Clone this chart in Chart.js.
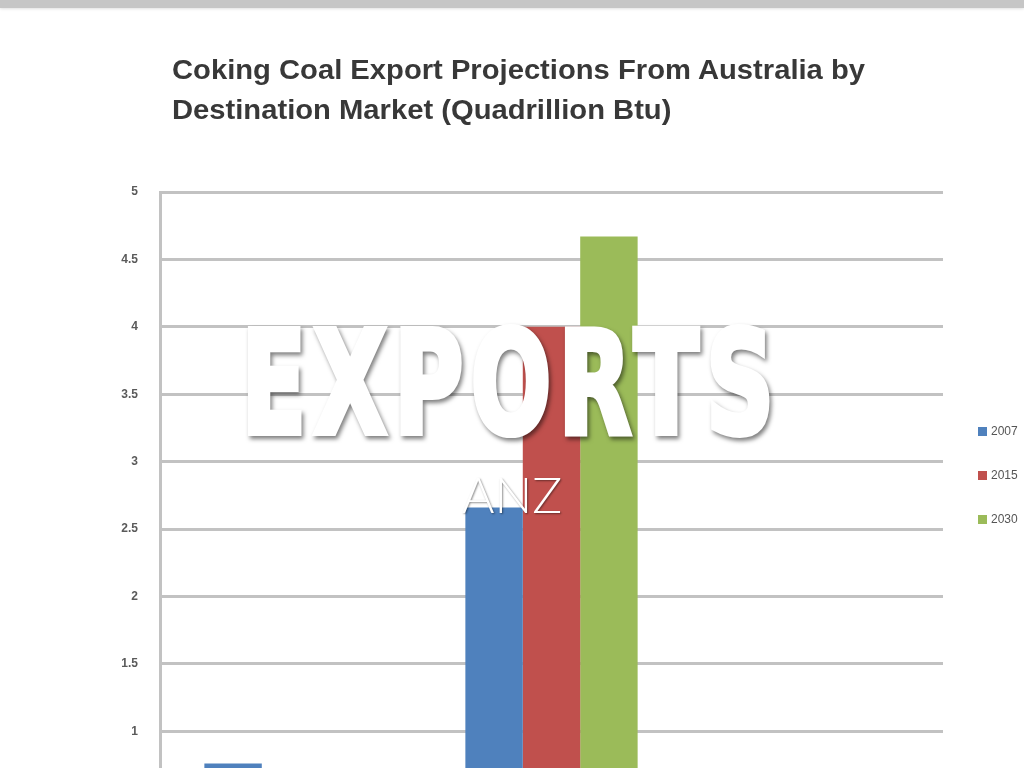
<!DOCTYPE html>
<html>
<head>
<meta charset="utf-8">
<title>Exports</title>
<script src="https://cdn.jsdelivr.net/npm/chart.js@4.4.0/dist/chart.umd.min.js"></script>
<style>
  html, body { margin: 0; padding: 0; width: 1024px; height: 768px; overflow: hidden; background: #fff; }
  #picture { position: absolute; left: 0; top: 0; width: 1024px; height: 768px; overflow: hidden; filter: blur(0.7px); }
  #chartBox { position: absolute; left: 0; top: 0; width: 1024px; height: 920px; }
  #chartTitle { position: absolute; left: 172px; top: 50px; display: inline-block; white-space: nowrap;
    font: bold 27px "Liberation Sans Narrow", "Liberation Sans", sans-serif; line-height: 40px; color: #383838;
    transform-origin: 0 0; }
  #legend { position: absolute; left: 978px; top: 0; font: 12px "Liberation Sans", sans-serif; color: #555; }
  .item { position: absolute; left: 0; white-space: nowrap; line-height: 9px; }
  .swatch { display: inline-block; width: 9px; height: 9px; margin-right: 4px; vertical-align: top; }
  #topbar { position: absolute; left: 0; top: 0; width: 1024px; height: 8px; background: #c6c6c6;
    box-shadow: 0 1px 3px rgba(0, 0, 0, 0.12); }
  .headline { position: absolute; left: 0; width: 1024px; text-align: center; color: #fff; line-height: 1; }
  #exports { top: 313px; font-family: "DejaVu Sans Condensed", "DejaVu Sans", sans-serif; font-stretch: condensed;
    font-weight: bold; font-size: 142px; filter: drop-shadow(2px 3px 2px rgba(0, 0, 0, 0.5)); }
  #exports span { display: inline-block; letter-spacing: 10px; -webkit-text-stroke: 6px #fff; }
  #anz { top: 469px; font-family: Lato, "Liberation Sans", sans-serif; font-weight: 300; font-size: 50px;
    text-shadow: 1px 1px 2px rgba(0, 0, 0, 0.45); }
</style>
</head>
<body>
<div id="picture">
  <div id="chartTitle">Coking Coal Export Projections From Australia by<br>Destination Market (Quadrillion Btu)</div>
  <div id="chartBox"><canvas id="chart" width="1024" height="920"></canvas></div>
  <div id="legend"></div>
</div>
<div id="topbar"></div>
<div class="headline" id="exports"><span>EXPORTS</span></div>
<div class="headline" id="anz">ANZ</div>

<script>
var categories = ["Europe", "Asia", "Americas"];
var seriesNames = ["2007", "2015", "2030"];
var values2007 = [0.76, 2.66, 0.3];
var values2015 = [0.6, 4.0, 0.35];
var values2030 = [0.5, 4.67, 0.4];
var yMin = 0;
var yMax = 5;
var yStep = 0.5;

var seriesColors = ["#4f81bd", "#c0504d", "#9bbb59"];
var seriesValues = [values2007, values2015, values2030];

var datasets = seriesNames.map(function (name, i) {
  return {
    label: name,
    data: seriesValues[i],
    backgroundColor: seriesColors[i],
    borderWidth: 0,
    categoryPercentage: 0.66,
    barPercentage: 1.0
  };
});

var ctx = document.getElementById("chart").getContext("2d");
var chart = new Chart(ctx, {
  type: "bar",
  data: { labels: categories, datasets: datasets },
  options: {
    responsive: false,
    animation: false,
    layout: { padding: { left: 0, right: 81, top: 192, bottom: 24 } },
    plugins: {
      legend: { display: false },
      title: { display: false },
      tooltip: { enabled: false }
    },
    scales: {
      x: {
        grid: { display: false },
        border: { display: false },
        ticks: { color: "#555", font: { family: "Liberation Sans", size: 13 } },
        afterFit: function (scale) { scale.height = 30; }
      },
      y: {
        min: yMin,
        max: yMax,
        ticks: {
          stepSize: yStep,
          padding: 22,
          color: "#5a5a5a",
          font: { family: "Liberation Sans", size: 12, weight: "bold" },
          callback: function (v) { return String(v); }
        },
        grid: { color: "#c2c2c2", lineWidth: 3, drawTicks: false },
        border: { color: "#c2c2c2", width: 3 },
        afterFit: function (scale) { scale.width = 160; }
      }
    }
  }
});

// html legend built from the chart's datasets
var legend = document.getElementById("legend");
chart.data.datasets.forEach(function (ds, i) {
  var item = document.createElement("div");
  item.className = "item";
  item.style.top = (427 + i * 44) + "px";
  var sw = document.createElement("span");
  sw.className = "swatch";
  sw.style.background = ds.backgroundColor;
  item.appendChild(sw);
  item.appendChild(document.createTextNode(ds.label));
  legend.appendChild(item);
});

// squeeze text blocks to the widths seen in the slide
function fitWidth(el, target) {
  var w = el.getBoundingClientRect().width;
  el.style.transform = "scaleX(" + (target / w) + ")";
}
fitWidth(document.getElementById("chartTitle"), 693);
fitWidth(document.querySelector("#exports span"), 540);
</script>
</body>
</html>
